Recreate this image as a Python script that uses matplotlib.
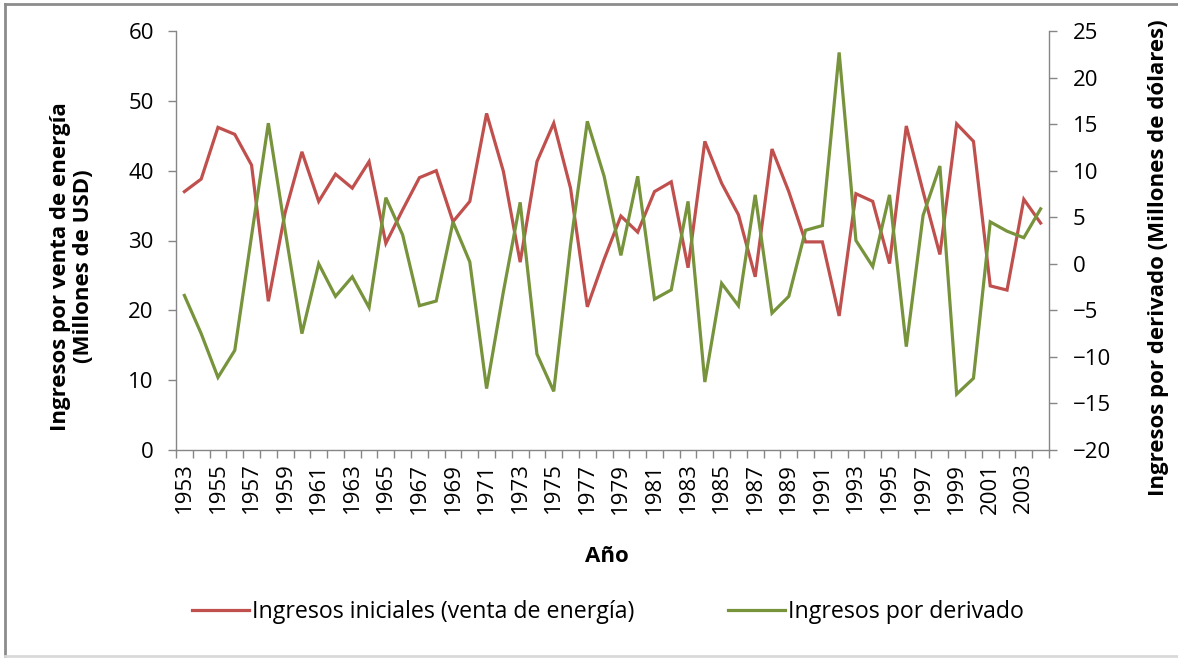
import numpy as np
import matplotlib
matplotlib.use("Agg")
import matplotlib.pyplot as plt
from matplotlib.lines import Line2D

plt.rcParams["font.family"] = ["Open Sans", "DejaVu Sans"]

years = list(range(1953, 2005))

# Ingresos iniciales (venta de energía), millones USD  -> left axis
ingresos_iniciales = [
    37.0, 38.8, 46.2, 45.2, 40.8, 21.3, 34.0, 42.7, 35.6, 39.5,
    37.5, 41.3, 29.6, 34.4, 39.0, 40.0, 32.7, 35.6, 48.2, 39.9,
    26.9, 41.3, 46.8, 37.5, 20.5, 27.3, 33.5, 31.2, 37.0, 38.4,
    26.1, 44.2, 38.2, 33.7, 24.8, 43.1, 37.0, 29.8, 29.8, 19.2,
    36.7, 35.6, 26.7, 46.4, 37.0, 28.0, 46.7, 44.2, 23.5, 22.9,
    35.9, 32.5,
]

# Ingresos por derivado, millones de dólares -> right axis
ingresos_derivado = [
    -3.4, -7.5, -12.2, -9.3, 3.0, 15.1, 3.6, -7.5, 0.0, -3.5,
    -1.4, -4.7, 7.1, 3.1, -4.5, -4.0, 4.5, 0.2, -13.4, -3.0,
    6.6, -9.7, -13.7, 2.0, 15.3, 9.4, 0.9, 9.4, -3.8, -2.8,
    6.7, -12.7, -2.1, -4.5, 7.4, -5.3, -3.5, 3.6, 4.1, 22.7,
    2.5, -0.3, 7.4, -8.9, 5.2, 10.5, -14.0, -12.3, 4.5, 3.5,
    2.8, 5.9,
]

RED = "#C0504D"
GREEN = "#77933C"
GRAY = "#868686"

W, H = 1178, 658
fig = plt.figure(figsize=(W / 100, H / 100), dpi=100)
ax = fig.add_axes([176 / W, 1 - 450 / H, (1049 - 176) / W, (450 - 31) / H])
ax2 = ax.twinx()

x = np.arange(len(years))
ax.plot(x, ingresos_iniciales, color=RED, lw=2.3, solid_joinstyle="miter",
        label="Ingresos iniciales (venta de energía)")
ax2.plot(x, ingresos_derivado, color=GREEN, lw=2.3, solid_joinstyle="miter",
         label="Ingresos por derivado")

ax.set_xlim(-0.5, len(years) - 0.5)
ax.set_ylim(0, 60)
ax2.set_ylim(-20, 25)
ax.set_yticks(range(0, 61, 10))
ax2.set_yticks(range(-20, 26, 5))

# category labels every other year, boundary ticks like Excel
ax.set_xticks(x[::2])
ax.set_xticklabels([str(y) for y in years[::2]], rotation=90)
ax.set_xticks(np.arange(-0.5, len(years), 1.0), minor=True)
ax.tick_params(axis="x", which="major", length=0, pad=9, labelsize=16)
ax.tick_params(axis="x", which="minor", length=6, width=1, color=GRAY, direction="out")
ax.tick_params(axis="y", length=6, width=1, color=GRAY, labelsize=16, pad=10)
ax2.tick_params(axis="y", length=6, width=1, color=GRAY, labelsize=16, pad=11)

for a in (ax, ax2):
    for s in a.spines.values():
        s.set_color(GRAY)
        s.set_linewidth(1.0)
    a.spines["top"].set_visible(False)
ax.spines["right"].set_visible(False)
ax2.spines["left"].set_visible(False)
ax2.spines["bottom"].set_visible(False)

ax.set_ylabel("Ingresos por venta de energía\n(Millones de USD)",
              fontsize=16, fontweight="bold", linespacing=1.1)
ax.yaxis.set_label_coords(-0.094, 0.438)
ax2.set_ylabel("Ingresos por derivado (Millones de dólares)",
               fontsize=16, fontweight="bold", rotation=90)
ax2.yaxis.set_label_coords(1.113, 0.458)
ax.set_xlabel("Año", fontsize=16, fontweight="bold")
ax.xaxis.set_label_coords(0.494, -0.229)

handles = ax.get_lines() + ax2.get_lines()
fig.legend(handles, [h.get_label() for h in handles], loc="center",
           bbox_to_anchor=(608 / W, 1 - 612 / H), ncol=2, frameon=False,
           fontsize=16.7, handlelength=2.45, handletextpad=0.13, columnspacing=4.05)

# chart-area border
fig.add_artist(Line2D([5 / W, 1], [1 - 4 / H, 1 - 4 / H], transform=fig.transFigure,
                      color="#8c8c8c", lw=2))
fig.add_artist(Line2D([5 / W, 5 / W], [1 - 4 / H, 1 - 656 / H], transform=fig.transFigure,
                      color="#8c8c8c", lw=2))
fig.add_artist(Line2D([5 / W, 1], [1 - 656 / H, 1 - 656 / H], transform=fig.transFigure,
                      color="#d9d9d9", lw=2))

fig.savefig("out.png", dpi=100)
